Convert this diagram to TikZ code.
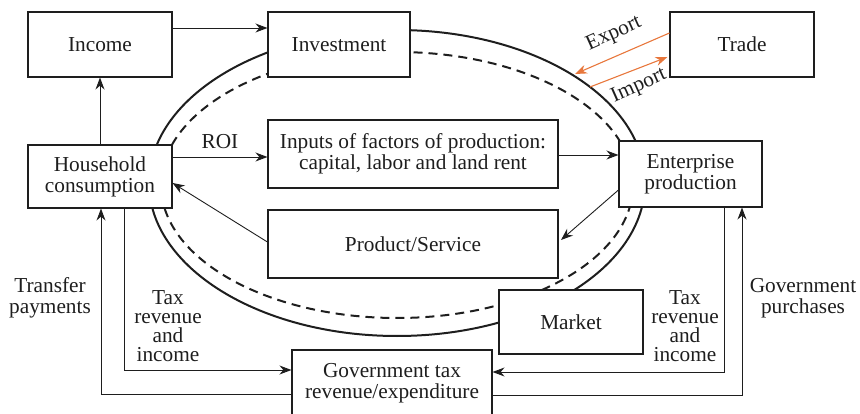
\documentclass[tikz,border=0pt]{standalone}
\usepackage{fontspec}
\setmainfont{Liberation Serif}
\usetikzlibrary{arrows.meta}
\definecolor{floworange}{HTML}{E8773C}
\definecolor{ink}{HTML}{1E1E1E}
\begin{document}
\begin{tikzpicture}[x=1pt,y=-1pt,
  font=\fontsize{21.3}{21}\selectfont,
  box/.style={draw=ink,line width=1.1pt,fill=white,align=center,
    inner sep=0pt,text=ink},
  arr/.style={draw=ink,line width=0.9pt,-{Stealth[length=12pt,width=9pt]}},
  trarr/.style={draw=floworange,line width=1.1pt,-{Stealth[length=12pt,width=9pt]}},
  lbl/.style={align=center,text=ink,inner sep=0pt},
  loopsolid/.style={draw=ink,line width=2pt},
  loopdash/.style={draw=ink,line width=2pt,dash pattern=on 9pt off 6pt}]
\useasboundingbox (0,0) rectangle (860,414);

% circular flow loops
\draw[loopsolid] (397,183) ellipse [x radius=248pt, y radius=153pt];
\draw[loopdash] (397,185) ellipse [x radius=236pt, y radius=133pt];

% boxes
\node[box,minimum width=144pt,minimum height=65pt] (inc) at (100,44.5) {Income};
\node[box,minimum width=142pt,minimum height=65pt] (inv) at (339,44.5) {Investment};
\node[box,minimum width=144pt,minimum height=65pt] (trade) at (742,44.5) {Trade};
\node[box,minimum width=144pt,minimum height=63pt] (hh) at (100,176.5) {Household\\consumption};
\node[box,minimum width=290pt,minimum height=68pt] (inp) at (413,154) {Inputs of factors of production:\\capital, labor and land rent};
\node[box,minimum width=143pt,minimum height=66pt] (ent) at (690.5,174) {Enterprise\\production};
\node[box,minimum width=290pt,minimum height=68pt] (prod) at (413,244) {Product/Service};
\node[box,minimum width=144pt,minimum height=64pt] (mkt) at (571,322) {Market};
\node[box,minimum width=200pt,minimum height=66pt] (gov) at (392,383) {Government tax\\revenue/expenditure};

% flows between boxes
\draw[arr] (inc.east |- 0,28) -- (inv.west |- 0,28);
\draw[arr] (hh.north) -- (inc.south);
\draw[arr] (hh.east |- 0,157) -- node[lbl,above=8pt,pos=0.5] (roi) {ROI} (inp.west |- 0,157);
\draw[arr] (inp.east |- 0,155) -- (ent.west |- 0,155);
\coordinate (prodin) at (561,240);
\draw[arr] (ent.west |- 0,190) -- (prodin);
\draw[arr] (prod.west |- 0,242) -- (hh.east |- 0,183);

% trade flows
\coordinate (exptip) at (575,74);
\coordinate (impstart) at (590,87);
\draw[trarr] (trade.west |- 0,33) -- (exptip);
\draw[trarr] (impstart) -- ([xshift=-2pt]trade.west |- 0,57);
\node[lbl,rotate=24] (export) at (614,34) {Export};
\node[lbl,rotate=24] (import) at (639,86) {Import};

% government flows
\draw[arr] (hh.south -| 124,0) |- (gov.west |- 0,370);
\draw[arr] (gov.west |- 0,394) -| (hh.south -| 101,0);
\draw[arr] (ent.south -| 724,0) |- (gov.east |- 0,372);
\draw[arr] (gov.east |- 0,395) -| (ent.south -| 742,0);

% flow labels
\node[lbl] (transfer) at (50,298) {Transfer\\payments};
\node[lbl,font=\fontsize{21.3}{19}\selectfont] (taxl) at (168,326) {Tax\\revenue\\and\\income};
\node[lbl,font=\fontsize{21.3}{19}\selectfont] (taxr) at (685,326) {Tax\\revenue\\and\\income};
\node[lbl] (purch) at (803,298) {Government\\purchases};
\end{tikzpicture}
\end{document}
